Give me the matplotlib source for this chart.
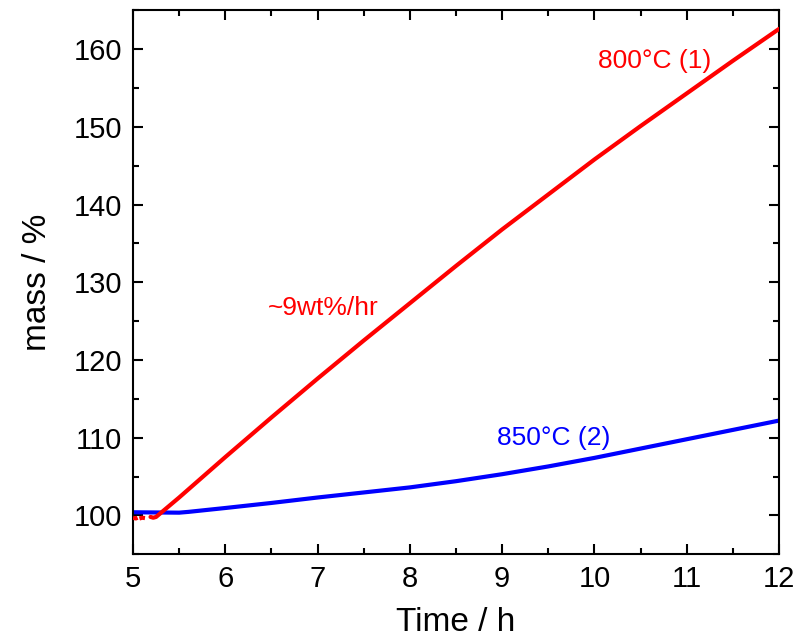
import matplotlib
matplotlib.use("Agg")
import matplotlib.pyplot as plt
from matplotlib.ticker import MultipleLocator

plt.rcParams['font.family'] = ['Liberation Sans', 'DejaVu Sans']

# 800 °C run (1): noisy start, then steady mass gain
red_start_t = [5.00, 5.03, 5.05]
red_start_m = [99.7, 99.6, 99.7]
red_start2_t = [5.07, 5.10, 5.13]
red_start2_m = [99.6, 99.7, 99.65]
red_t = [5.19, 5.22, 5.25, 5.28, 5.33, 5.5, 6.0, 6.5, 7.0, 7.5, 8.0, 8.5, 9.0,
         9.5, 10.0, 10.5, 11.0, 11.5, 12.0]
red_m = [99.8, 99.7, 99.8, 100.1, 100.6, 102.3, 107.5, 112.6, 117.6, 122.5, 127.3,
         132.1, 136.8, 141.3, 145.8, 150.1, 154.3, 158.5, 162.6]

# 850 °C run (2)
blue_t = [5.0, 5.5, 5.6, 6.0, 6.5, 7.0, 7.5, 8.0, 8.5, 9.0, 9.5, 10.0, 10.5,
          11.0, 11.5, 12.0]
blue_m = [100.4, 100.35, 100.45, 100.95, 101.6, 102.3, 102.95, 103.6, 104.4,
          105.3, 106.3, 107.4, 108.6, 109.8, 111.0, 112.2]

x_ticks = [5, 6, 7, 8, 9, 10, 11, 12]
y_ticks = [100, 110, 120, 130, 140, 150, 160]

fig = plt.figure(figsize=(8.04, 6.4), dpi=100)
ax = fig.add_axes([0.1654, 0.134, 0.8036, 0.850])

lw = 3.0
ax.plot(blue_t, blue_m, color='#0000ff', lw=lw, solid_capstyle='butt',
        solid_joinstyle='round', zorder=2)
ax.plot(red_start_t, red_start_m, color='#ff0000', lw=lw, solid_capstyle='butt', zorder=3)
ax.plot(red_start2_t, red_start2_m, color='#ff0000', lw=lw, solid_capstyle='butt', zorder=3)
ax.plot(red_t, red_m, color='#ff0000', lw=lw, solid_capstyle='round',
        solid_joinstyle='round', zorder=3)

ax.set_xlim(5, 12)
ax.set_ylim(95, 165)
ax.set_xticks(x_ticks)
ax.set_yticks(y_ticks)
ax.xaxis.set_minor_locator(MultipleLocator(0.5))
ax.yaxis.set_minor_locator(MultipleLocator(5))

ax.tick_params(which='both', direction='in', top=True, right=True, width=1.5,
               labelsize=21, pad=8)
ax.tick_params(which='major', length=7.5)
ax.tick_params(which='minor', length=4)
for s in ax.spines.values():
    s.set_linewidth(1.5)

ax.set_xlabel('Time / h', fontsize=24, labelpad=10)
ax.set_ylabel('mass / %', fontsize=24, labelpad=15)

ax.text(10.65, 158.5, '800°C (1)', color='#ff0000', fontsize=19, ha='center', va='center')
ax.text(7.06, 126.7, '~9wt%/hr', color='#ff0000', fontsize=19, ha='center', va='center')
ax.text(9.56, 109.9, '850°C (2)', color='#0000ff', fontsize=19, ha='center', va='center')

fig.savefig('out.png', dpi=100)
